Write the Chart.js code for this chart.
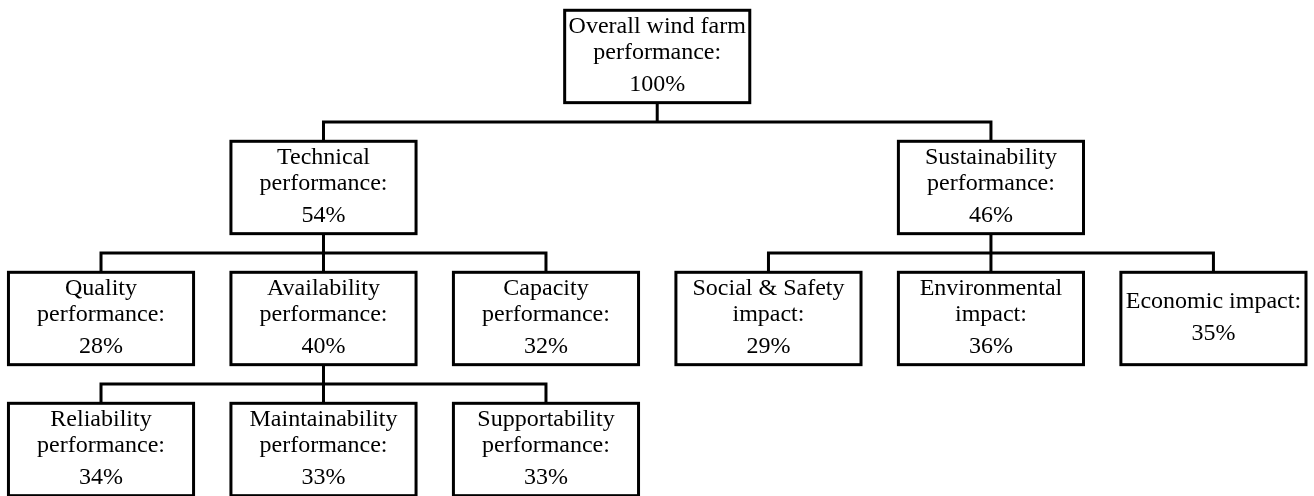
<!DOCTYPE html>
<html>
<head>
<meta charset="utf-8">
<style>
  html, body { margin: 0; padding: 0; background: #fff; }
  canvas { display: block; }
</style>
<script src="https://cdn.jsdelivr.net/npm/chart.js@4/dist/chart.umd.min.js"></script>
</head>
<body>
<canvas id="tree" width="1314" height="496"></canvas>
<script>
// noeuds de l'arbre (libellé en lignes, part en %, parent)
const nodeNames = [
    ["Overall wind farm", "performance:"],
    ["Technical", "performance:"],
    ["Sustainability", "performance:"],
    ["Quality", "performance:"],
    ["Availability", "performance:"],
    ["Capacity", "performance:"],
    ["Social & Safety", "impact:"],
    ["Environmental", "impact:"],
    ["Economic impact:"],
    ["Reliability", "performance:"],
    ["Maintainability", "performance:"],
    ["Supportability", "performance:"]
];
const nodeShares = [100, 54, 46, 28, 40, 32, 29, 36, 35, 34, 33, 33];
const nodeParents = [-1, 0, 0, 1, 1, 1, 2, 2, 2, 4, 4, 4];

// niveau de chaque noeud
function depthOf(i) {
    let d = 0;
    while (nodeParents[i] >= 0) { i = nodeParents[i]; d++; }
    return d;
}
const levels = nodeParents.map((p, i) => depthOf(i));
const children = nodeParents.map((p, i) => nodeParents.map((q, j) => q === i ? j : -1).filter(j => j >= 0));

// placement : le niveau le plus large donne les colonnes, le reste est centré
const maxLevel = Math.max(...levels);
const counts = [];
for (let l = 0; l <= maxLevel; l++) counts.push(levels.filter(v => v === l).length);
const widest = counts.indexOf(Math.max(...counts));
const cols = new Array(nodeNames.length).fill(null);
let c = 0;
levels.forEach((l, i) => { if (l === widest) cols[i] = c++; });
for (let l = widest - 1; l >= 0; l--) {
    levels.forEach((lv, i) => {
        if (lv !== l) return;
        const ch = children[i];
        cols[i] = ch.reduce((s, j) => s + cols[j], 0) / ch.length;
    });
}
for (let l = widest + 1; l <= maxLevel; l++) {
    levels.forEach((lv, i) => {
        if (lv !== l - 1) return;
        const ch = children[i];
        ch.forEach((j, k) => { cols[j] = cols[i] + k - (ch.length - 1) / 2; });
    });
}

const treePlugin = {
    id: "treeBoxes",
    afterDatasetsDraw(chart, args, opts) {
        const ctx = chart.ctx;
        const xs = chart.scales.x, ys = chart.scales.y;
        const pts = chart.data.datasets[0].data;
        const halfW = (xs.getPixelForValue(opts.boxWidth) - xs.getPixelForValue(0)) / 2;
        const halfH = Math.abs(ys.getPixelForValue(opts.boxHeight) - ys.getPixelForValue(0)) / 2;
        ctx.save();
        ctx.strokeStyle = "#000";
        ctx.lineWidth = opts.lineWidth;
        ctx.lineCap = "square";

        // liaisons
        pts.forEach((p, i) => {
            const ch = children[i];
            if (!ch.length) return;
            const px = xs.getPixelForValue(p.x);
            const midY = ys.getPixelForValue(p.y + 0.5);
            const xsCh = ch.map(j => xs.getPixelForValue(pts[j].x));
            ctx.beginPath();
            ctx.moveTo(px, ys.getPixelForValue(p.y));
            ctx.lineTo(px, midY);
            ctx.moveTo(Math.min(...xsCh), midY);
            ctx.lineTo(Math.max(...xsCh), midY);
            ch.forEach((j, k) => {
                ctx.moveTo(xsCh[k], midY);
                ctx.lineTo(xsCh[k], ys.getPixelForValue(pts[j].y));
            });
            ctx.stroke();
        });

        // boîtes et textes
        ctx.font = opts.font;
        ctx.textAlign = "center";
        ctx.textBaseline = "alphabetic";
        pts.forEach((p, i) => {
            const cx = xs.getPixelForValue(p.x);
            const cy = ys.getPixelForValue(p.y);
            ctx.fillStyle = "#fff";
            ctx.fillRect(cx - halfW, cy - halfH, 2 * halfW, 2 * halfH);
            ctx.strokeRect(cx - halfW, cy - halfH, 2 * halfW, 2 * halfH);
            const lines = nodeNames[i];
            const span = (lines.length - 1) * opts.lineGap + opts.valueGap;
            let y = cy + 6 - span / 2;
            ctx.fillStyle = "#000";
            lines.forEach(t => { ctx.fillText(t, cx, y); y += opts.lineGap; });
            y += opts.valueGap - opts.lineGap;
            ctx.fillText(nodeShares[i] + "%", cx, y);
        });
        ctx.restore();
    }
};

new Chart(document.getElementById("tree"), {
    type: "scatter",
    data: {
        datasets: [{
            data: nodeNames.map((n, i) => ({ x: cols[i], y: levels[i] })),
            pointRadius: 0
        }]
    },
    options: {
        responsive: false,
        animation: false,
        layout: { padding: 0 },
        plugins: {
            legend: { display: false },
            tooltip: { enabled: false },
            treeBoxes: {
                boxWidth: 0.832,
                boxHeight: 0.705,
                lineWidth: 3,
                font: "24px 'Liberation Serif', 'Times New Roman', serif",
                lineGap: 26,
                valueGap: 32
            }
        },
        scales: {
            x: { type: "linear", display: false, min: -0.454, max: 5.452 },
            y: { type: "linear", display: false, reverse: true, min: -0.431, max: 3.355 }
        }
    },
    plugins: [treePlugin]
});
</script>
</body>
</html>
